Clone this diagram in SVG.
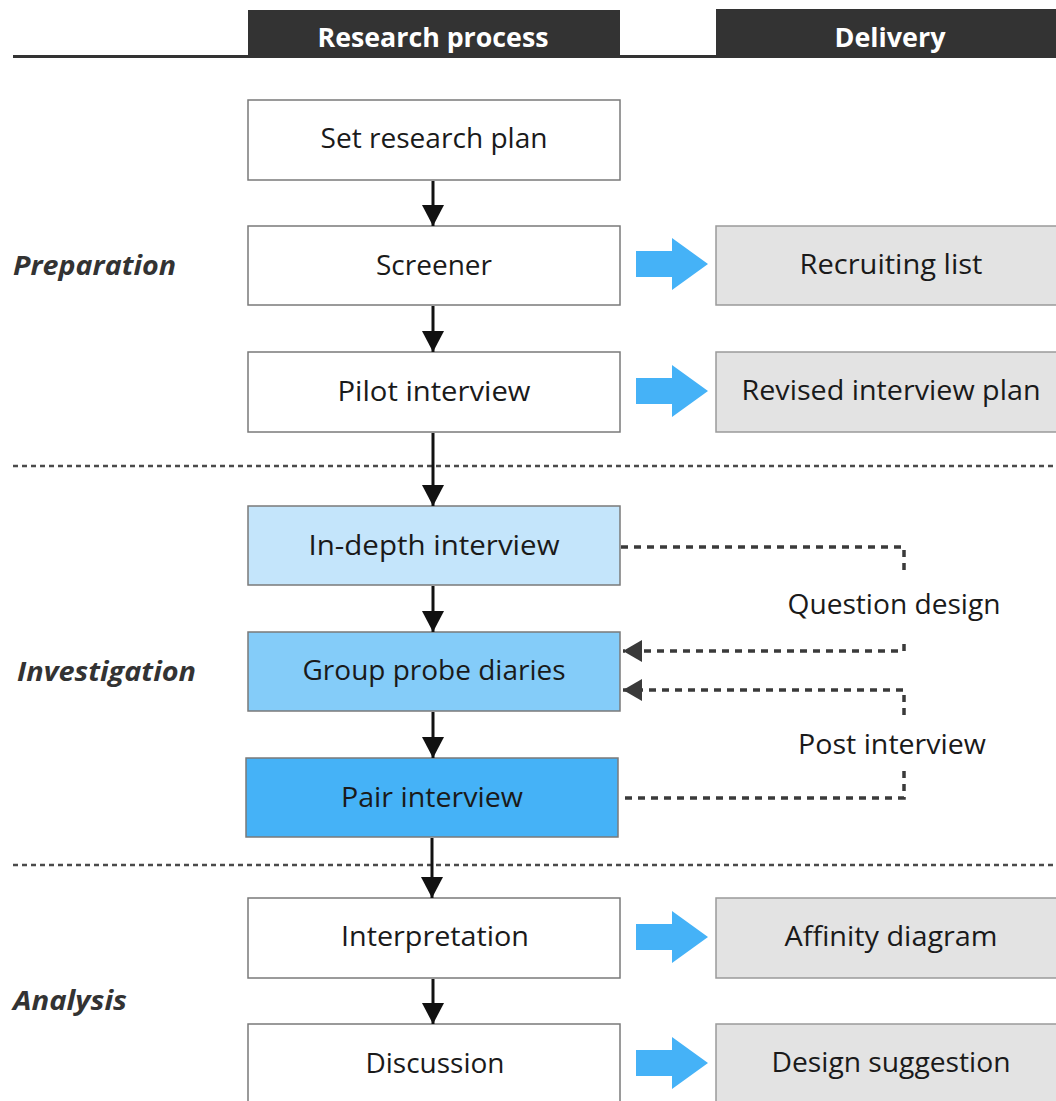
<svg xmlns="http://www.w3.org/2000/svg" width="1056" height="1101" viewBox="0 0 1056 1101">
  <style>
    .txt { font-family: "Open Sans", "Noto Sans", "Liberation Sans", sans-serif; font-size: 27.5px; fill: #1a1a1a; text-anchor: middle; }
    .head { font-family: "Open Sans", "Noto Sans", "Liberation Sans", sans-serif; font-size: 27px; font-weight: bold; fill: #ffffff; text-anchor: middle; }
    .phase { font-family: "Open Sans", "Noto Sans", "Liberation Sans", sans-serif; font-size: 26px; font-weight: bold; font-style: italic; fill: #333333; }
    .box { stroke: #7a7a7a; stroke-width: 1.5; }
    .plain { fill: #ffffff; }
    .deliv { fill: #e3e3e3; stroke: #9a9a9a; stroke-width: 1.5; }
    .flow { stroke: #111111; stroke-width: 3; fill: none; }
    .fb { stroke: #3a3a3a; stroke-width: 3.5; stroke-dasharray: 7 6; fill: none; }
    .sep { stroke: #4a4a4a; stroke-width: 2.5; stroke-dasharray: 5 4; fill: none; }
    .bigarrow { fill: #45b2f7; }
  </style>
  <defs>
    <marker id="ah" markerUnits="userSpaceOnUse" markerWidth="22" markerHeight="22" viewBox="0 0 22 22" refX="21" refY="11" orient="auto">
      <path d="M0,0 L21,11 L0,22 Z" fill="#111111"/>
    </marker>
    <marker id="ahd" markerUnits="userSpaceOnUse" markerWidth="20" markerHeight="22" viewBox="0 0 20 22" refX="19" refY="11" orient="auto">
      <path d="M0,0 L19,11 L0,22 Z" fill="#3a3a3a"/>
    </marker>
    <polygon id="big" points="0,-13 36,-13 36,-26 72,0 36,26 36,13 0,13"/>
  </defs>

  <rect width="1056" height="1101" fill="#ffffff"/>

  <!-- column headers -->
  <g id="header">
    <line x1="13" y1="56.5" x2="1056" y2="56.5" stroke="#333333" stroke-width="3"/>
    <rect x="248" y="10" width="372" height="47" fill="#333333"/>
    <text class="head" x="433" y="47" textLength="231" lengthAdjust="spacingAndGlyphs">Research process</text>
    <rect x="716" y="9" width="342" height="48" fill="#333333"/>
    <text class="head" x="890" y="47" textLength="111" lengthAdjust="spacingAndGlyphs">Delivery</text>
  </g>

  <!-- phase labels -->
  <g id="phase-preparation"><text class="phase" x="13" y="275" textLength="163" lengthAdjust="spacingAndGlyphs">Preparation</text></g>
  <g id="phase-investigation"><text class="phase" x="17" y="681" textLength="179" lengthAdjust="spacingAndGlyphs">Investigation</text></g>
  <g id="phase-analysis"><text class="phase" x="13" y="1010" textLength="114" lengthAdjust="spacingAndGlyphs">Analysis</text></g>

  <!-- phase separators -->
  <g id="separators">
    <line class="sep" x1="13" y1="466" x2="1056" y2="466"/>
    <line class="sep" x1="13" y1="865" x2="1056" y2="865"/>
  </g>

  <!-- research process steps -->
  <g id="set-research-plan">
    <rect class="box plain" x="248" y="100" width="372" height="80"/>
    <text class="txt" x="434" y="148" textLength="227" lengthAdjust="spacingAndGlyphs">Set research plan</text>
  </g>
  <g id="screener">
    <rect class="box plain" x="248" y="226" width="372" height="79"/>
    <text class="txt" x="434" y="275" textLength="116" lengthAdjust="spacingAndGlyphs">Screener</text>
  </g>
  <g id="pilot-interview">
    <rect class="box plain" x="248" y="352" width="372" height="80"/>
    <text class="txt" x="434" y="401" textLength="193" lengthAdjust="spacingAndGlyphs">Pilot interview</text>
  </g>
  <g id="in-depth-interview">
    <rect class="box" x="248" y="506" width="372" height="79" fill="#c4e5fb"/>
    <text class="txt" x="434" y="555" textLength="251" lengthAdjust="spacingAndGlyphs">In-depth interview</text>
  </g>
  <g id="group-probe-diaries">
    <rect class="box" x="248" y="632" width="372" height="79" fill="#84ccf9"/>
    <text class="txt" x="434" y="680" textLength="263" lengthAdjust="spacingAndGlyphs">Group probe diaries</text>
  </g>
  <g id="pair-interview">
    <rect class="box" x="246" y="758" width="372" height="79" fill="#45b2f7"/>
    <text class="txt" x="432" y="807" textLength="182" lengthAdjust="spacingAndGlyphs">Pair interview</text>
  </g>
  <g id="interpretation">
    <rect class="box plain" x="248" y="898" width="372" height="80"/>
    <text class="txt" x="435" y="946" textLength="188" lengthAdjust="spacingAndGlyphs">Interpretation</text>
  </g>
  <g id="discussion">
    <rect class="box plain" x="248" y="1024" width="372" height="90"/>
    <text class="txt" x="435" y="1073" textLength="139" lengthAdjust="spacingAndGlyphs">Discussion</text>
  </g>

  <!-- deliverables -->
  <g id="recruiting-list">
    <rect class="deliv" x="716" y="226" width="342" height="79"/>
    <text class="txt" x="891" y="274" textLength="183" lengthAdjust="spacingAndGlyphs">Recruiting list</text>
  </g>
  <g id="revised-interview-plan">
    <rect class="deliv" x="716" y="352" width="342" height="80"/>
    <text class="txt" x="891" y="400" textLength="299" lengthAdjust="spacingAndGlyphs">Revised interview plan</text>
  </g>
  <g id="affinity-diagram">
    <rect class="deliv" x="716" y="898" width="342" height="80"/>
    <text class="txt" x="891" y="946" textLength="213" lengthAdjust="spacingAndGlyphs">Affinity diagram</text>
  </g>
  <g id="design-suggestion">
    <rect class="deliv" x="716" y="1024" width="342" height="90"/>
    <text class="txt" x="891" y="1072" textLength="239" lengthAdjust="spacingAndGlyphs">Design suggestion</text>
  </g>

  <!-- connectors -->
  <g id="connectors">
    <!-- main flow -->
    <line class="flow" x1="433" y1="181" x2="433" y2="226" marker-end="url(#ah)"/>
    <line class="flow" x1="433" y1="306" x2="433" y2="352" marker-end="url(#ah)"/>
    <line class="flow" x1="433" y1="433" x2="433" y2="506" marker-end="url(#ah)"/>
    <line class="flow" x1="433" y1="586" x2="433" y2="632" marker-end="url(#ah)"/>
    <line class="flow" x1="433" y1="712" x2="433" y2="758" marker-end="url(#ah)"/>
    <line class="flow" x1="432" y1="838" x2="432" y2="898" marker-end="url(#ah)"/>
    <line class="flow" x1="433" y1="979" x2="433" y2="1024" marker-end="url(#ah)"/>

    <!-- deliverable arrows -->
    <use href="#big" class="bigarrow" x="636" y="264"/>
    <use href="#big" class="bigarrow" x="636" y="391"/>
    <use href="#big" class="bigarrow" x="636" y="937"/>
    <use href="#big" class="bigarrow" x="636" y="1063"/>

    <!-- feedback loops -->
    <polyline class="fb" points="621,547 904,547 904,575"/>
    <polyline class="fb" points="904,644 904,651 623,651" marker-end="url(#ahd)"/>
    <polyline class="fb" points="904,715 904,690 623,690" marker-end="url(#ahd)"/>
    <polyline class="fb" points="904,771 904,798 619,798"/>
  </g>

  <!-- feedback labels -->
  <g id="label-question-design"><text class="txt" x="894" y="614" textLength="213" lengthAdjust="spacingAndGlyphs">Question design</text></g>
  <g id="label-post-interview"><text class="txt" x="892" y="754" textLength="188" lengthAdjust="spacingAndGlyphs">Post interview</text></g>
</svg>
